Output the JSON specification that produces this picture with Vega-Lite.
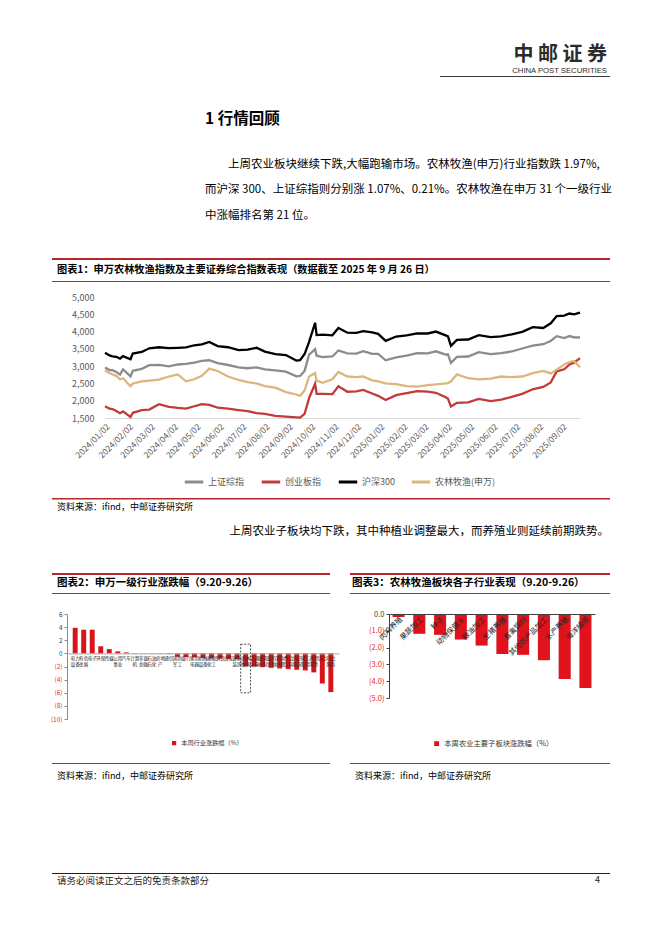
{
  "$schema": "https://vega.github.io/schema/vega-lite/v6.json",
  "background": "white",
  "padding": 0,
  "spacing": 0,
  "bounds": "flush",
  "resolve": {"scale": {"color": "independent"}, "legend": {"color": "independent"}},
  "config": {
    "font": "Noto Sans CJK SC",
    "view": {"stroke": null},
    "title": {"frame": "group", "anchor": "start", "orient": "bottom", "offset": 0, "fontWeight": "normal", "color": "#000000", "subtitleColor": "#000000"},
    "axis": {"labelFont": "Noto Sans CJK SC", "titleFont": "Noto Sans CJK SC", "labelOverlap": false},
    "legend": {"labelFont": "Noto Sans CJK SC", "padding": 0}
  },
  "vconcat": [
    {"hconcat": [
      {"width": 440, "height": 44, "data": {"values": []}, "mark": "rule", "encoding": {}},
      {"width": 170, "height": 44, "data": {"values": []}, "mark": "rule", "encoding": {},
       "title": {"text": "中 邮 证 券", "subtitle": "CHINA POST SECURITIES", "orient": "bottom", "anchor": "end", "offset": 1, "dx": -3, "fontSize": 20, "fontWeight": "bold", "color": "#2b2b2b", "subtitleFont": "Liberation Sans", "subtitleFontSize": 7.7, "subtitleColor": "#2b2b2b", "subtitlePadding": 2}}
    ], "spacing": 0, "bounds": "flush"},
    {"width": 1, "height": 76, "data": {"values": []}, "mark": "rule", "encoding": {}},
    {"hconcat": [
      {"width": 440, "height": 1, "data": {"values": []}, "mark": "rule", "encoding": {}},
      {"width": 170, "height": 1, "view": {"fill": "#3a3a3a", "stroke": null}, "data": {"values": []}, "mark": "rule", "encoding": {}}
    ], "spacing": 0, "bounds": "flush"},
    {"width": 600, "height": 32, "data": {"values": []}, "mark": "rule", "encoding": {},
     "title": {"text": "1  行情回顾", "subtitle": ["​　　上周农业板块继续下跌,大幅跑输市场。农林牧渔(申万)行业指数跌 1.97%,", "而沪深 300、上证综指则分别涨 1.07%、0.21%。农林牧渔在申万 31 个一级行业", "中涨幅排名第 21 位。"], "orient": "bottom", "anchor": "start", "dx": 205, "offset": 4, "fontSize": 15.5, "fontWeight": "bold", "subtitleFont": "Noto Sans CJK SC", "subtitleFontSize": 11.5, "subtitleLineHeight": 25.7, "subtitlePadding": 31}},
    {"width": 1, "height": 150, "data": {"values": []}, "mark": "rule", "encoding": {}},
    {"hconcat": [
      {"width": 52, "height": 2, "data": {"values": []}, "mark": "rule", "encoding": {}},
      {"width": 558, "height": 2, "view": {"fill": "#b4282d", "stroke": null}, "data": {"values": []}, "mark": "rule", "encoding": {},
       "title": {"text": "图表1：申万农林牧渔指数及主要证券综合指数表现（数据截至 2025 年 9 月 26 日）", "orient": "bottom", "anchor": "start", "offset": 5, "dx": 5, "fontSize": 10.2, "fontWeight": "bold"}}
    ], "spacing": 0, "bounds": "flush"},
    {"width": 1, "height": 23, "data": {"values": []}, "mark": "rule", "encoding": {}},
    {"hconcat": [
      {"width": 52, "height": 1, "data": {"values": []}, "mark": "rule", "encoding": {}},
      {"width": 558, "height": 1, "view": {"fill": "#b4282d", "stroke": null}, "data": {"values": []}, "mark": "rule", "encoding": {}}
    ], "spacing": 0, "bounds": "flush"},
    {"width": 1, "height": 16, "data": {"values": []}, "mark": "rule", "encoding": {}},
    {"hconcat": [
      {"width": 105, "height": 121, "data": {"values": []}, "mark": "rule", "encoding": {}},
      {"width": 475, "height": 121,
       "data": {"values": [
        {"date": "2024-01-02", "上证综指": 2962, "创业板指": 1838, "沪深300": 3386, "农林牧渔(申万)": 2873},
        {"date": "2024-01-08", "上证综指": 2887, "创业板指": 1770, "沪深300": 3310, "农林牧渔(申万)": 2800},
        {"date": "2024-01-12", "上证综指": 2882, "创业板指": 1760, "沪深300": 3284, "农林牧渔(申万)": 2760},
        {"date": "2024-01-17", "上证综指": 2833, "创业板指": 1700, "沪深300": 3270, "农林牧渔(申万)": 2720},
        {"date": "2024-01-22", "上证综指": 2756, "创业板指": 1640, "沪深300": 3218, "农林牧渔(申万)": 2620},
        {"date": "2024-01-26", "上证综指": 2910, "创业板指": 1690, "沪深300": 3290, "农林牧渔(申万)": 2650},
        {"date": "2024-02-05", "上证综指": 2702, "创业板指": 1530, "沪深300": 3201, "农林牧渔(申万)": 2420},
        {"date": "2024-02-08", "上证综指": 2866, "创业板指": 1650, "沪深300": 3364, "农林牧渔(申万)": 2500},
        {"date": "2024-02-20", "上证综指": 2922, "创业板指": 1730, "沪深300": 3410, "农林牧渔(申万)": 2560},
        {"date": "2024-03-01", "上证综指": 3027, "创业板指": 1745, "沪深300": 3516, "农林牧渔(申万)": 2580},
        {"date": "2024-03-14", "上证综指": 3038, "创业板指": 1900, "沪深300": 3547, "农林牧渔(申万)": 2610},
        {"date": "2024-03-27", "上证综指": 2993, "创业板指": 1820, "沪深300": 3520, "农林牧渔(申万)": 2700},
        {"date": "2024-04-08", "上证综指": 3048, "创业板指": 1790, "沪深300": 3530, "农林牧渔(申万)": 2760},
        {"date": "2024-04-19", "上证综指": 3065, "创业板指": 1770, "沪深300": 3540, "农林牧渔(申万)": 2560},
        {"date": "2024-04-30", "上证综指": 3105, "创业板指": 1840, "沪深300": 3604, "农林牧渔(申万)": 2620},
        {"date": "2024-05-10", "上证综指": 3155, "创业板指": 1900, "沪深300": 3628, "农林牧渔(申万)": 2720},
        {"date": "2024-05-20", "上证综指": 3171, "创业板指": 1880, "沪深300": 3700, "农林牧渔(申万)": 2930},
        {"date": "2024-05-31", "上证综指": 3087, "创业板指": 1800, "沪深300": 3580, "农林牧渔(申万)": 2860},
        {"date": "2024-06-14", "上证综指": 3033, "创业板指": 1770, "沪深300": 3547, "农林牧渔(申万)": 2700},
        {"date": "2024-06-28", "上证综指": 2967, "创业板指": 1730, "沪深300": 3462, "农林牧渔(申万)": 2600},
        {"date": "2024-07-10", "上证综指": 2939, "创业板指": 1700, "沪深300": 3480, "农林牧渔(申万)": 2540},
        {"date": "2024-07-22", "上证综指": 2965, "创业板指": 1640, "沪深300": 3530, "农林牧渔(申万)": 2500},
        {"date": "2024-08-02", "上证综指": 2905, "创业板指": 1620, "沪深300": 3420, "农林牧渔(申万)": 2420},
        {"date": "2024-08-16", "上证综指": 2879, "创业板指": 1560, "沪深300": 3345, "农林牧渔(申万)": 2380},
        {"date": "2024-08-30", "上证综指": 2842, "创业板指": 1540, "沪深300": 3320, "农林牧渔(申万)": 2250},
        {"date": "2024-09-13", "上证综指": 2704, "创业板指": 1520, "沪深300": 3160, "农林牧渔(申万)": 2180},
        {"date": "2024-09-18", "上证综指": 2717, "创业板指": 1510, "沪深300": 3171, "农林牧渔(申万)": 2140},
        {"date": "2024-09-24", "上证综指": 2863, "创业板指": 1620, "沪深300": 3350, "农林牧渔(申万)": 2300},
        {"date": "2024-09-30", "上证综指": 3336, "创业板指": 2080, "沪深300": 3703, "农林牧渔(申万)": 2700},
        {"date": "2024-10-08", "上证综指": 3489, "创业板指": 2490, "沪深300": 4256, "农林牧渔(申万)": 2800},
        {"date": "2024-10-10", "上证综指": 3301, "创业板指": 2200, "沪深300": 3900, "农林牧渔(申万)": 2580},
        {"date": "2024-10-18", "上证综指": 3261, "创业板指": 2200, "沪深300": 3910, "农林牧渔(申万)": 2520},
        {"date": "2024-10-31", "上证综指": 3279, "创业板指": 2190, "沪深300": 3891, "农林牧渔(申万)": 2620},
        {"date": "2024-11-08", "上证综指": 3452, "创业板指": 2420, "沪深300": 4104, "农林牧渔(申万)": 2830},
        {"date": "2024-11-20", "上证综指": 3367, "创业板指": 2260, "沪深300": 3968, "农林牧渔(申万)": 2700},
        {"date": "2024-12-02", "上证综指": 3363, "创业板指": 2270, "沪深300": 3964, "农林牧渔(申万)": 2680},
        {"date": "2024-12-11", "上证综指": 3432, "创业板指": 2310, "沪深300": 4014, "农林牧渔(申万)": 2700},
        {"date": "2024-12-23", "上证综指": 3352, "创业板指": 2210, "沪深300": 3980, "农林牧渔(申万)": 2590},
        {"date": "2024-12-31", "上证综指": 3352, "创业板指": 2141, "沪深300": 3935, "农林牧渔(申万)": 2560},
        {"date": "2025-01-10", "上证综指": 3168, "创业板指": 2020, "沪深300": 3733, "农林牧渔(申万)": 2500},
        {"date": "2025-01-24", "上证综指": 3252, "创业板指": 2160, "沪深300": 3856, "农林牧渔(申万)": 2480},
        {"date": "2025-02-07", "上证综指": 3303, "创业板指": 2220, "沪深300": 3893, "农林牧渔(申万)": 2420},
        {"date": "2025-02-21", "上证综指": 3379, "创业板指": 2280, "沪深300": 3950, "农林牧渔(申万)": 2410},
        {"date": "2025-03-07", "上证综指": 3372, "创业板指": 2260, "沪深300": 3945, "农林牧渔(申万)": 2450},
        {"date": "2025-03-18", "上证综指": 3429, "创业板指": 2230, "沪深300": 4000, "农林牧渔(申万)": 2470},
        {"date": "2025-03-31", "上证综指": 3336, "创业板指": 2100, "沪深300": 3888, "农林牧渔(申万)": 2500},
        {"date": "2025-04-03", "上证综指": 3342, "创业板指": 2060, "沪深300": 3862, "农林牧渔(申万)": 2510},
        {"date": "2025-04-07", "上证综指": 3096, "创业板指": 1830, "沪深300": 3589, "农林牧渔(申万)": 2560},
        {"date": "2025-04-15", "上证综指": 3267, "创业板指": 1940, "沪深300": 3761, "农林牧渔(申万)": 2760},
        {"date": "2025-04-30", "上证综指": 3279, "创业板指": 1950, "沪深300": 3770, "农林牧渔(申万)": 2650},
        {"date": "2025-05-14", "上证综指": 3404, "创业板指": 2050, "沪深300": 3897, "农林牧渔(申万)": 2620},
        {"date": "2025-05-30", "上证综指": 3347, "创业板指": 1990, "沪深300": 3840, "农林牧渔(申万)": 2640},
        {"date": "2025-06-13", "上证综指": 3377, "创业板指": 2030, "沪深300": 3864, "农林牧渔(申万)": 2700},
        {"date": "2025-06-27", "上证综指": 3424, "创业板指": 2110, "沪深300": 3921, "农林牧渔(申万)": 2680},
        {"date": "2025-07-11", "上证综指": 3510, "创业板指": 2200, "沪深300": 3990, "农林牧渔(申万)": 2700},
        {"date": "2025-07-25", "上证综指": 3593, "创业板指": 2330, "沪深300": 4127, "农林牧渔(申万)": 2800},
        {"date": "2025-08-08", "上证综指": 3635, "创业板指": 2400, "沪深300": 4104, "农林牧渔(申万)": 2860},
        {"date": "2025-08-18", "上证综指": 3728, "创业板指": 2530, "沪深300": 4239, "农林牧渔(申万)": 2790},
        {"date": "2025-08-26", "上证综指": 3868, "创业板指": 2850, "沪深300": 4450, "农林牧渔(申万)": 2900},
        {"date": "2025-09-05", "上证综指": 3812, "创业板指": 2910, "沪深300": 4460, "农林牧渔(申万)": 3050},
        {"date": "2025-09-12", "上证综指": 3870, "创业板指": 3050, "沪深300": 4522, "农林牧渔(申万)": 3120},
        {"date": "2025-09-18", "上证综指": 3831, "创业板指": 3100, "沪深300": 4498, "农林牧渔(申万)": 3150},
        {"date": "2025-09-26", "上证综指": 3828, "创业板指": 3230, "沪深300": 4550, "农林牧渔(申万)": 2970}
       ]},
       "transform": [{"fold": ["上证综指", "创业板指", "沪深300", "农林牧渔(申万)"], "as": ["series", "value"]}],
       "mark": {"type": "line", "strokeWidth": 2.3},
       "encoding": {
        "x": {"field": "date", "type": "temporal",
          "scale": {"type": "utc", "domain": [{"year": 2024, "month": 1, "date": 2, "utc": true}, {"year": 2025, "month": 9, "date": 26, "utc": true}]},
          "axis": {"title": null, "grid": false, "ticks": false, "domainColor": "#d9d9d9", "labelAngle": -45, "labelFontSize": 8.5, "labelColor": "#595959", "labelPadding": 4, "labelFlush": false, "labelOverlap": false,
            "labelExpr": "utcFormat(datum.value, '%Y/%m/%d')",
            "values": [
              {"year": 2024, "month": 1, "date": 2, "utc": true}, {"year": 2024, "month": 2, "date": 2, "utc": true}, {"year": 2024, "month": 3, "date": 2, "utc": true},
              {"year": 2024, "month": 4, "date": 2, "utc": true}, {"year": 2024, "month": 5, "date": 2, "utc": true}, {"year": 2024, "month": 6, "date": 2, "utc": true},
              {"year": 2024, "month": 7, "date": 2, "utc": true}, {"year": 2024, "month": 8, "date": 2, "utc": true}, {"year": 2024, "month": 9, "date": 2, "utc": true},
              {"year": 2024, "month": 10, "date": 2, "utc": true}, {"year": 2024, "month": 11, "date": 2, "utc": true}, {"year": 2024, "month": 12, "date": 2, "utc": true},
              {"year": 2025, "month": 1, "date": 2, "utc": true}, {"year": 2025, "month": 2, "date": 2, "utc": true}, {"year": 2025, "month": 3, "date": 2, "utc": true},
              {"year": 2025, "month": 4, "date": 2, "utc": true}, {"year": 2025, "month": 5, "date": 2, "utc": true}, {"year": 2025, "month": 6, "date": 2, "utc": true},
              {"year": 2025, "month": 7, "date": 2, "utc": true}, {"year": 2025, "month": 8, "date": 2, "utc": true}, {"year": 2025, "month": 9, "date": 2, "utc": true}
            ]}},
        "y": {"field": "value", "type": "quantitative", "scale": {"domain": [1500, 5000], "nice": false, "zero": false},
          "axis": {"title": null, "grid": false, "ticks": false, "domain": false, "labelOverlap": false, "values": [1500, 2000, 2500, 3000, 3500, 4000, 4500, 5000], "labelExpr": "format(datum.value, ',.0f')", "labelFontSize": 9, "labelColor": "#595959", "labelPadding": 11}},
        "color": {"field": "series", "type": "nominal",
          "scale": {"domain": ["上证综指", "创业板指", "沪深300", "农林牧渔(申万)"], "range": ["#8c8c8c", "#c23b3b", "#000000", "#dcb67c"]},
          "legend": {"title": null, "orient": "none", "legendX": 78, "legendY": 174, "direction": "horizontal", "symbolType": "stroke", "symbolStrokeWidth": 3, "symbolSize": 340, "labelFontSize": 9, "labelColor": "#595959", "columnPadding": 10, "labelOffset": 3}}
       }}
    ], "spacing": 0, "bounds": "flush", "resolve": {"scale": {"color": "independent"}, "legend": {"color": "independent"}}},
    {"width": 1, "height": 201, "data": {"values": []}, "mark": "rule", "encoding": {}},
    {"hconcat": [
      {"width": 52, "height": 1.5, "data": {"values": []}, "mark": "rule", "encoding": {}},
      {"width": 558, "height": 1.5, "view": {"fill": "#b4282d", "stroke": null}, "data": {"values": []}, "mark": "rule", "encoding": {},
       "title": {"text": "资料来源：ifind，中邮证券研究所", "subtitle": "​　　　　　　　　　　　　　　　上周农业子板块均下跌，其中种植业调整最大，而养殖业则延续前期跌势。", "orient": "bottom", "anchor": "start", "offset": 3.5, "dx": 5, "fontSize": 9, "subtitleFont": "Noto Sans CJK SC", "subtitleFontSize": 11.5, "subtitlePadding": 14}}
    ], "spacing": 0, "bounds": "flush"},
    {"width": 1, "height": 75, "data": {"values": []}, "mark": "rule", "encoding": {}},
    {"hconcat": [
      {"width": 52, "height": 1, "data": {"values": []}, "mark": "rule", "encoding": {}},
      {"vconcat": [
        {"width": 278, "height": 2, "view": {"fill": "#b4282d", "stroke": null}, "data": {"values": []}, "mark": "rule", "encoding": {},
         "title": {"text": "图表2：申万一级行业涨跌幅（9.20-9.26）", "orient": "bottom", "anchor": "start", "offset": 3, "dx": 5, "fontSize": 10.5, "fontWeight": "bold"}},
        {"width": 1, "height": 18, "data": {"values": []}, "mark": "rule", "encoding": {}},
        {"width": 278, "height": 1, "view": {"fill": "#b4282d", "stroke": null}, "data": {"values": []}, "mark": "rule", "encoding": {}},
        {"width": 1, "height": 20, "data": {"values": []}, "mark": "rule", "encoding": {}},
        {"hconcat": [
          {"width": 15, "height": 105, "data": {"values": []}, "mark": "rule", "encoding": {}},
          {"width": 272, "height": 105,
           "data": {"values": [
             {"industry": "电力设备", "change": 3.9}, {"industry": "有色金属", "change": 3.6}, {"industry": "电子", "change": 3.6},
             {"industry": "环保", "change": 1.1}, {"industry": "传媒", "change": 0.65}, {"industry": "公用事业", "change": 0.3},
             {"industry": "汽车", "change": 0.15}, {"industry": "计算机", "change": 0.05}, {"industry": "非银金融", "change": 0.03},
             {"industry": "石油石化", "change": 0.02}, {"industry": "房地产", "change": -0.05}, {"industry": "通信", "change": -0.1},
             {"industry": "国防军工", "change": -0.5}, {"industry": "银行", "change": -0.55}, {"industry": "家用电器", "change": -0.6},
             {"industry": "机械设备", "change": -0.7}, {"industry": "基础化工", "change": -0.75}, {"industry": "钢铁", "change": -0.8},
             {"industry": "煤炭", "change": -0.85}, {"industry": "建筑装饰", "change": -0.9}, {"industry": "农林牧渔", "change": -1.97},
             {"industry": "交通运输", "change": -2.0}, {"industry": "建筑材料", "change": -2.1}, {"industry": "医药生物", "change": -2.2},
             {"industry": "美容护理", "change": -2.3}, {"industry": "食品饮料", "change": -2.4}, {"industry": "纺织服饰", "change": -2.5},
             {"industry": "轻工制造", "change": -2.6}, {"industry": "商贸零售", "change": -2.9}, {"industry": "综合", "change": -4.6},
             {"industry": "社会服务", "change": -5.9}
           ]},
           "layer": [
             {"mark": {"type": "bar"},
              "encoding": {
                "x": {"field": "industry", "type": "nominal", "sort": null, "scale": {"paddingInner": 0.42, "paddingOuter": 0.67},
                  "axis": {"title": null, "orient": "bottom", "offset": -65.6, "labelAngle": 0, "ticks": false, "domainColor": "#a6a6a6", "labelFontSize": 4.6, "labelLineHeight": 6.2, "labelPadding": 2, "labelBaseline": "top", "labelColor": "#262626", "zindex": 1, "labelOverlap": false,
                    "labelExpr": "[slice(datum.label, 0, 2), slice(datum.label, 2)]"}},
                "y": {"field": "change", "type": "quantitative", "scale": {"domain": [-10, 6], "nice": false},
                  "axis": {"title": null, "grid": false, "values": [6, 4, 2, 0, -2, -4, -6, -8, -10], "labelOverlap": false, "labelBound": false, "tickSize": 3, "domainColor": "#8c8c8c", "tickColor": "#8c8c8c", "labelFontSize": 6.5, "labelPadding": 2,
                    "labelExpr": "datum.value < 0 ? '(' + format(-datum.value, 'd') + ')' : format(datum.value, 'd')",
                    "labelColor": {"condition": {"test": "datum.value < 0", "value": "#e8262b"}, "value": "#404040"}}},
                "color": {"datum": "本周行业涨跌幅（%）", "scale": {"range": ["#d7141a"]},
                  "legend": {"title": null, "orient": "none", "legendX": 104, "legendY": 126, "direction": "horizontal", "symbolType": "square", "symbolSize": 18, "labelFontSize": 6.2, "labelColor": "#333333"}}
              }},
             {"transform": [{"filter": "datum.industry === '农林牧渔'"}],
              "mark": {"type": "bar", "filled": false, "color": "#222222", "strokeDash": [2, 1.5], "strokeWidth": 0.8, "width": {"band": 2}},
              "encoding": {
                "x": {"field": "industry", "type": "nominal", "sort": null,
                  "axis": {"title": null, "orient": "bottom", "offset": -65.6, "labelAngle": 0, "ticks": false, "domainColor": "#a6a6a6", "labelFontSize": 4.6, "labelLineHeight": 6.2, "labelPadding": 2, "labelBaseline": "top", "labelColor": "#262626", "zindex": 1, "labelOverlap": false,
                    "labelExpr": "[slice(datum.label, 0, 2), slice(datum.label, 2)]"}},
                "y": {"datum": 1.4, "type": "quantitative",
                  "axis": {"title": null, "grid": false, "values": [6, 4, 2, 0, -2, -4, -6, -8, -10], "labelOverlap": false, "labelBound": false, "tickSize": 3, "domainColor": "#8c8c8c", "tickColor": "#8c8c8c", "labelFontSize": 6.5, "labelPadding": 2,
                    "labelExpr": "datum.value < 0 ? '(' + format(-datum.value, 'd') + ')' : format(datum.value, 'd')",
                    "labelColor": {"condition": {"test": "datum.value < 0", "value": "#e8262b"}, "value": "#404040"}}},
                "y2": {"datum": -6.0}
              }}
           ]}
        ], "spacing": 0, "bounds": "flush", "resolve": {"scale": {"color": "independent"}, "legend": {"color": "independent"}}},
        {"width": 1, "height": 149, "data": {"values": []}, "mark": "rule", "encoding": {}},
        {"width": 278, "height": 1, "view": {"fill": "#b4282d", "stroke": null}, "data": {"values": []}, "mark": "rule", "encoding": {},
         "title": {"text": "资料来源：ifind，中邮证券研究所", "orient": "bottom", "anchor": "start", "offset": 8, "dx": 5, "fontSize": 9}}
      ], "spacing": 0, "bounds": "flush", "resolve": {"scale": {"color": "independent"}, "legend": {"color": "independent"}}},
      {"width": 298, "height": 1, "data": {"values": []}, "mark": "rule", "encoding": {}},
      {"vconcat": [
        {"width": 260, "height": 2, "view": {"fill": "#b4282d", "stroke": null}, "data": {"values": []}, "mark": "rule", "encoding": {},
         "title": {"text": "图表3：农林牧渔板块各子行业表现（9.20-9.26）", "orient": "bottom", "anchor": "start", "offset": 3, "dx": 2, "fontSize": 10.5, "fontWeight": "bold"}},
        {"width": 1, "height": 18, "data": {"values": []}, "mark": "rule", "encoding": {}},
        {"width": 260, "height": 1, "view": {"fill": "#b4282d", "stroke": null}, "data": {"values": []}, "mark": "rule", "encoding": {}},
        {"width": 1, "height": 20, "data": {"values": []}, "mark": "rule", "encoding": {}},
        {"hconcat": [
          {"width": 39, "height": 84, "data": {"values": []}, "mark": "rule", "encoding": {}},
          {"width": 206, "height": 84,
           "data": {"values": [
             {"sub": "肉鸡养殖", "change": -0.18}, {"sub": "果蔬加工", "change": -1.18}, {"sub": "种子", "change": -1.24},
             {"sub": "动物保健Ⅱ", "change": -1.52}, {"sub": "粮油加工", "change": -1.88}, {"sub": "生猪养殖", "change": -2.38},
             {"sub": "畜禽饲料", "change": -2.43}, {"sub": "其他农产品加工", "change": -2.75}, {"sub": "水产养殖", "change": -3.87},
             {"sub": "海洋捕捞", "change": -4.4}
           ]},
           "mark": {"type": "bar"},
           "encoding": {
             "x": {"field": "sub", "type": "nominal", "sort": null, "scale": {"paddingInner": 0.42, "paddingOuter": 0.17},
               "axis": {"title": null, "orient": "bottom", "offset": -84, "labelAngle": -45, "ticks": false, "domainColor": "#404040", "labelFontSize": 7.3, "labelPadding": 1, "labelColor": "#262626", "zindex": 1, "labelOverlap": false}},
             "y": {"field": "change", "type": "quantitative", "scale": {"domain": [-5, 0], "nice": false},
               "axis": {"title": null, "grid": false, "values": [0, -1, -2, -3, -4, -5], "labelOverlap": false, "tickSize": 3, "domainColor": "#404040", "tickColor": "#404040", "labelFontSize": 7.5, "labelPadding": 2,
                 "labelExpr": "datum.value < 0 ? '(' + format(-datum.value, '.1f') + ')' : format(datum.value, '.1f')",
                 "labelColor": {"condition": {"test": "datum.value < 0", "value": "#e8262b"}, "value": "#404040"}}},
             "color": {"datum": "本周农业主要子板块涨跌幅（%）", "scale": {"range": ["#e0121c"]},
               "legend": {"title": null, "orient": "none", "legendX": 44, "legendY": 126, "direction": "horizontal", "symbolType": "square", "symbolSize": 24, "labelFontSize": 7.3, "labelColor": "#333333"}}
           }}
        ], "spacing": 0, "bounds": "flush", "resolve": {"scale": {"color": "independent"}, "legend": {"color": "independent"}}},
        {"width": 1, "height": 149, "data": {"values": []}, "mark": "rule", "encoding": {}},
        {"width": 260, "height": 1, "view": {"fill": "#b4282d", "stroke": null}, "data": {"values": []}, "mark": "rule", "encoding": {},
         "title": {"text": "资料来源：ifind，中邮证券研究所", "orient": "bottom", "anchor": "start", "offset": 8, "dx": 5, "fontSize": 9}}
      ], "spacing": 0, "bounds": "flush", "resolve": {"scale": {"color": "independent"}, "legend": {"color": "independent"}}}
    ], "spacing": 0, "bounds": "flush", "resolve": {"scale": {"color": "independent"}, "legend": {"color": "independent"}}},
    {"width": 1, "height": 300, "data": {"values": []}, "mark": "rule", "encoding": {}},
    {"hconcat": [
      {"width": 52, "height": 1, "data": {"values": []}, "mark": "rule", "encoding": {}},
      {"width": 500, "height": 1, "view": {"fill": "#222222", "stroke": null}, "data": {"values": []}, "mark": "rule", "encoding": {},
       "title": {"text": "请务必阅读正文之后的免责条款部分", "orient": "bottom", "anchor": "start", "offset": 1.7, "dx": 5, "fontSize": 9.5, "color": "#222222"}},
      {"width": 58, "height": 1, "view": {"fill": "#222222", "stroke": null}, "data": {"values": []}, "mark": "rule", "encoding": {},
       "title": {"text": "4", "orient": "bottom", "anchor": "end", "offset": 1.7, "dx": -10, "fontSize": 9, "color": "#222222"}}
    ], "spacing": 0, "bounds": "flush"}
  ]
}
